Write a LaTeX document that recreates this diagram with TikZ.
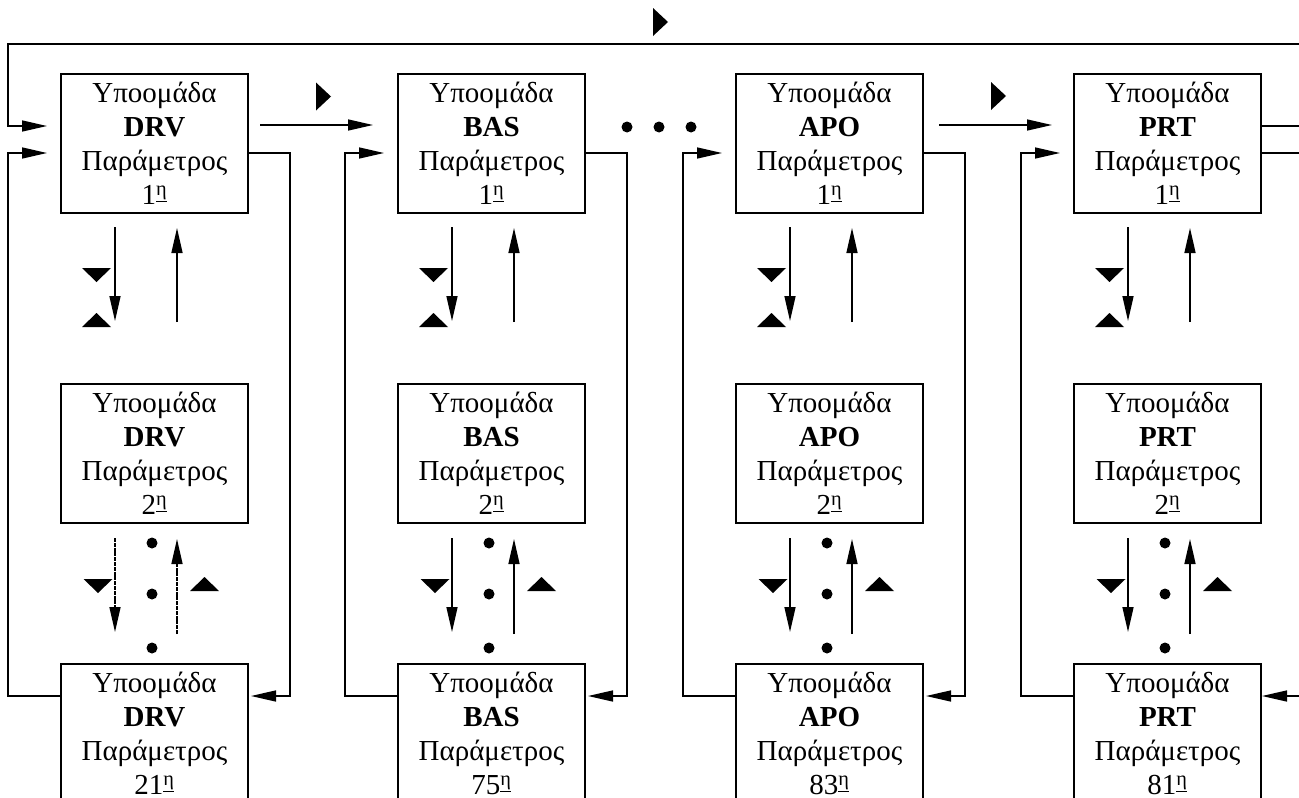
\documentclass[tikz,border=0pt]{standalone}
\usepackage{fontspec}
\setmainfont{Liberation Serif}
\usetikzlibrary{arrows.meta,calc}

% ordinal mark: raised, underlined eta
\newcommand\ord{\textsuperscript{\underline{η}}}
% small filled direction markers (centre x, centre y)
\newcommand\TriR[2]{\fill (#1,#2) ++(-7.5,-14) -- ++(15,14) -- ++(-15,14) -- cycle;}
\newcommand\TriD[2]{\fill (#1,#2) ++(-14.5,-7) -- ++(29,0) -- ++(-14.5,14) -- cycle;}
\newcommand\TriU[2]{\fill (#1,#2) ++(-14.5,7) -- ++(29,0) -- ++(-14.5,-14) -- cycle;}

\tikzset{
  box/.style={draw, line width=2pt, minimum width=187pt, minimum height=139pt,
    inner sep=0pt, align=center, anchor=north west,
    font=\fontsize{29}{34}\selectfont},
  conn/.style={line width=1.5pt},
  arr/.style={conn, -{Triangle[length=25pt,width=11pt]}},
  dotmark/.style={circle, fill, inner sep=0pt, minimum size=11pt},
  fine/.style={dash pattern=on 4pt off 0.8pt},
}

\begin{document}
\begin{tikzpicture}[x=1pt,y=-1pt]
\useasboundingbox (0,0) rectangle (1299,798);

% edge points where the lines leave or enter the sheet
\coordinate (topR) at (1299,44);
\coordinate (topL) at (8,44);
\coordinate (outA) at (1299,126);
\coordinate (outB) at (1299,153);
\coordinate (inC)  at (1299,696);

% the four columns of parameter boxes
\foreach \c/\L/\g/\n in {1/60/DRV/21, 2/397/BAS/75, 3/735/APO/83, 4/1073/PRT/81} {
  \node[box] (b\c1) at (\L,73)  {Υποομάδα\\\textbf{\g}\\Παράμετρος\\1\ord};
  \node[box] (b\c2) at (\L,383) {Υποομάδα\\\textbf{\g}\\Παράμετρος\\2\ord};
  \node[box] (b\c3) at (\L,663) {Υποομάδα\\\textbf{\g}\\Παράμετρος\\\n\ord};

  % stepping between the first and second parameter
  \draw[arr] ($(b\c1.south west)+(55,13)$) -- ($(b\c2.north west)+(55,-62)$);
  \draw[arr] ($(b\c2.north west)+(117,-61)$) -- ($(b\c1.south west)+(117,14)$);
  \TriD{\L+36.5}{275}
  \TriU{\L+36.5}{320}

  % stepping through the remaining parameters
  \node[dotmark] (d\c a) at ($(b\c2.south west)+(92,19)$) {};
  \node[dotmark] (d\c b) at ($(b\c2.south west)+(92,70)$) {};
  \node[dotmark] (d\c c) at ($(b\c2.south west)+(92,124)$) {};
  \TriD{\L+38}{586}
  \TriU{\L+144.5}{584}

  % return from the last parameter to the first
  \draw[arr] ($(b\c3.north west)+(0,33)$) -- ++(-52,0) |- ($(b\c1.north west)+(-13,80)$);
}

% column 1 steps through its remaining parameters with fine dashed lines
\draw[arr, fine] ($(b12.south west)+(55,14)$) -- ($(b13.north west)+(55,-31)$);
\draw[arr, fine] ($(b13.north west)+(117,-29)$) -- ($(b12.south west)+(117,15)$);
\foreach \c in {2,3,4} {
  \draw[arr] ($(b\c2.south west)+(55,14)$) -- ($(b\c3.north west)+(55,-31)$);
  \draw[arr] ($(b\c3.north west)+(117,-29)$) -- ($(b\c2.south west)+(117,15)$);
}

% jump from the first parameter down to the last one
\foreach \c in {1,2,3} {
  \draw[arr] ($(b\c1.north east)+(0,80)$) -- ++(41,0) |- ($(b\c3.north east)+(2,33)$);
}

% passing from one group to the next
\draw[arr] ($(b11.north east)+(11,52)$) -- ($(b21.north west)+(-24,52)$);
\TriR{323.5}{96.5}
\node[dotmark] (e1) at (627,127) {};
\node[dotmark] (e2) at (659,127) {};
\node[dotmark] (e3) at (691,127) {};
\draw[arr] ($(b31.north east)+(15,52)$) -- ($(b41.north west)+(-21,52)$);
\TriR{998.5}{96}

% wrap-around from the last group back to the first
\draw[arr] (topR) -- (topL) -- ++(0,82) -- ($(b11.north west)+(-13,53)$);
\TriR{660.5}{22}

% lines leaving and entering the last group at the right
\draw[conn] ($(b41.north east)+(0,53)$) -- (outA);
\draw[conn] ($(b41.north east)+(0,80)$) -- (outB);
\draw[arr] (inC) -- ($(b43.north east)+(0,33)$);

\end{tikzpicture}
\end{document}
